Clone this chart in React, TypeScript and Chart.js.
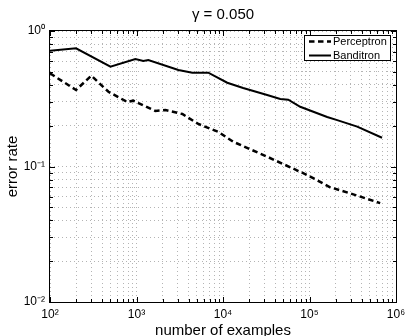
import React, { useEffect, useRef } from 'react';
import { Chart, registerables } from 'chart.js';

Chart.register(...registerables);

const titleText = 'γ = 0.050';
const xAxisTitle = 'number of examples';
const yAxisTitle = 'error rate';
const seriesNames = ['Perceptron', 'Banditron'];

const perceptronX = [100, 200, 300, 474, 785, 920, 1650, 2160, 3390, 5190, 8830, 13200, 32500, 94200, 173000, 295000, 656000];
const perceptronY = [0.487, 0.367, 0.468, 0.356, 0.299, 0.306, 0.257, 0.261, 0.244, 0.206, 0.18, 0.152, 0.118, 0.0865, 0.0703, 0.0634, 0.0537];

const banditronX = [100, 200, 500, 970, 1200, 1370, 3050, 4420, 6760, 11200, 17100, 32400, 45900, 56800, 78100, 160000, 209000, 356000, 690000];
const banditronY = [0.716, 0.745, 0.545, 0.621, 0.601, 0.611, 0.515, 0.492, 0.492, 0.415, 0.38, 0.337, 0.315, 0.311, 0.276, 0.232, 0.22, 0.197, 0.163];

const xDecades = [2, 3, 4, 5, 6];
const xTickLabels = ['10²', '10³', '10⁴', '10⁵', '10⁶'];
const yDecades = [-2, -1, 0];
const yTickLabels = ['10⁻²', '10⁻¹', '10⁰'];

const FONT = '"Liberation Sans", Arial, Helvetica, sans-serif';

function logTicks(minExp: number, maxExp: number) {
  const out: number[] = [];
  for (let e = minExp; e < maxExp; e++) {
    for (let m = 1; m < 10; m++) out.push(parseFloat((m * Math.pow(10, e)).toPrecision(6)));
  }
  out.push(Math.pow(10, maxExp));
  return out;
}

function isDecade(v: number) {
  const l = Math.log10(v);
  return Math.abs(l - Math.round(l)) < 1e-6;
}

function decadeLabel(v: number, decades: number[], labels: string[]) {
  if (!isDecade(v)) return '';
  const i = decades.indexOf(Math.round(Math.log10(v)));
  return i >= 0 ? labels[i] : '';
}

const decorPlugin = {
  id: 'decor',
  afterDraw(chart: any) {
    const ctx = chart.ctx;
    const ca = chart.chartArea;
    ctx.save();
    // inward tick marks
    ctx.strokeStyle = '#000';
    ctx.lineWidth = 1;
    ctx.setLineDash([]);
    const xs = chart.scales.x;
    const ys = chart.scales.y;
    ctx.beginPath();
    xs.ticks.forEach((t: any) => {
      const px = Math.round(xs.getPixelForValue(t.value)) + 0.5;
      const len = isDecade(t.value) ? 5 : 3;
      ctx.moveTo(px, ca.bottom);
      ctx.lineTo(px, ca.bottom - len);
      ctx.moveTo(px, ca.top);
      ctx.lineTo(px, ca.top + len);
    });
    ys.ticks.forEach((t: any) => {
      const py = Math.round(ys.getPixelForValue(t.value)) + 0.5;
      const len = isDecade(t.value) ? 5 : 3;
      ctx.moveTo(ca.left, py);
      ctx.lineTo(ca.left + len, py);
      ctx.moveTo(ca.right, py);
      ctx.lineTo(ca.right - len, py);
    });
    ctx.stroke();
    // box
    ctx.strokeRect(ca.left - 0.5, ca.top - 0.5, ca.right - ca.left + 1, ca.bottom - ca.top + 1);

    // title
    ctx.fillStyle = '#000';
    ctx.font = `15px ${FONT}`;
    ctx.textAlign = 'center';
    ctx.textBaseline = 'middle';
    ctx.fillText(titleText, (ca.left + ca.right) / 2, 15);

    // legend
    ctx.font = `11px ${FONT}`;
    const tw = Math.max(...seriesNames.map((n) => ctx.measureText(n).width));
    const w = Math.round(29 + tw + 3);
    const h = 25;
    const bx = Math.round(ca.right - 6 - w);
    const by = Math.round(ca.top + 4);
    ctx.fillStyle = '#fff';
    ctx.fillRect(bx, by, w, h);
    ctx.strokeStyle = '#000';
    ctx.lineWidth = 1;
    ctx.strokeRect(bx + 0.5, by + 0.5, w, h);
    chart.data.datasets.forEach((ds: any, i: number) => {
      const y = by + 6.5 + i * 14;
      ctx.save();
      ctx.setLineDash(ds.borderDash || []);
      ctx.lineWidth = ds.borderWidth;
      ctx.strokeStyle = ds.borderColor;
      ctx.beginPath();
      ctx.moveTo(bx + 5, y);
      ctx.lineTo(bx + 27, y);
      ctx.stroke();
      ctx.restore();
      ctx.fillStyle = '#000';
      ctx.textAlign = 'left';
      ctx.textBaseline = 'middle';
      ctx.fillText(ds.label, bx + 29, y);
    });
    ctx.restore();
  },
};

export default function App() {
  const ref = useRef<HTMLCanvasElement | null>(null);
  useEffect(() => {
    if (!ref.current) return;
    const chart = new Chart(ref.current, {
      type: 'line',
      data: {
        datasets: [
          {
            label: seriesNames[0],
            data: perceptronX.map((x, i) => ({ x, y: perceptronY[i] })),
            borderColor: '#000',
            borderWidth: 2.5,
            borderDash: [5.5, 3.5],
            pointRadius: 0,
            fill: false,
            tension: 0,
          },
          {
            label: seriesNames[1],
            data: banditronX.map((x, i) => ({ x, y: banditronY[i] })),
            borderColor: '#000',
            borderWidth: 2,
            pointRadius: 0,
            fill: false,
            tension: 0,
          },
        ],
      },
      options: {
        animation: false,
        responsive: false,
        maintainAspectRatio: false,
        layout: { padding: { top: 31, right: 9, left: 0, bottom: 0 } },
        plugins: {
          legend: { display: false },
          title: { display: false },
          tooltip: { enabled: false },
        },
        scales: {
          x: {
            type: 'logarithmic',
            min: 100,
            max: 1e6,
            afterBuildTicks: (s: any) => {
              s.ticks = logTicks(2, 6).map((v) => ({ value: v }));
            },
            afterFit: (s: any) => {
              s.height = 34;
              s.paddingLeft = 0;
              s.paddingRight = 0;
            },
            ticks: {
              autoSkip: false,
              maxRotation: 0,
              padding: 5,
              color: '#000',
              font: { family: FONT, size: 12 },
              callback: (v: any) => decadeLabel(Number(v), xDecades, xTickLabels),
            },
            grid: { color: '#b4b4b4', lineWidth: 1, drawTicks: false },
            border: { display: false, dash: [1, 3] },
            title: {
              display: true,
              text: xAxisTitle,
              color: '#000',
              font: { family: FONT, size: 15 },
              padding: { top: 0, bottom: -4 },
            },
          },
          y: {
            type: 'logarithmic',
            min: 0.01,
            max: 1,
            afterBuildTicks: (s: any) => {
              s.ticks = logTicks(-2, 0).map((v) => ({ value: v }));
            },
            afterFit: (s: any) => {
              s.width = 50;
              s.paddingTop = 0;
              s.paddingBottom = 0;
            },
            ticks: {
              autoSkip: false,
              padding: 5,
              color: '#000',
              font: { family: FONT, size: 12 },
              callback: (v: any) => decadeLabel(Number(v), yDecades, yTickLabels),
            },
            grid: { color: '#b4b4b4', lineWidth: 1, drawTicks: false },
            border: { display: false, dash: [1, 3] },
            title: {
              display: true,
              text: yAxisTitle,
              color: '#000',
              font: { family: FONT, size: 15 },
              padding: { top: 4, bottom: 0 },
            },
          },
        },
      } as any,
      plugins: [decorPlugin],
    });
    return () => chart.destroy();
  }, []);
  return (
    <div style={{ position: 'absolute', left: 0, top: 0, width: 405, height: 336, background: '#fff' }}>
      <canvas ref={ref} width={405} height={336} style={{ display: 'block' }} />
    </div>
  );
}
